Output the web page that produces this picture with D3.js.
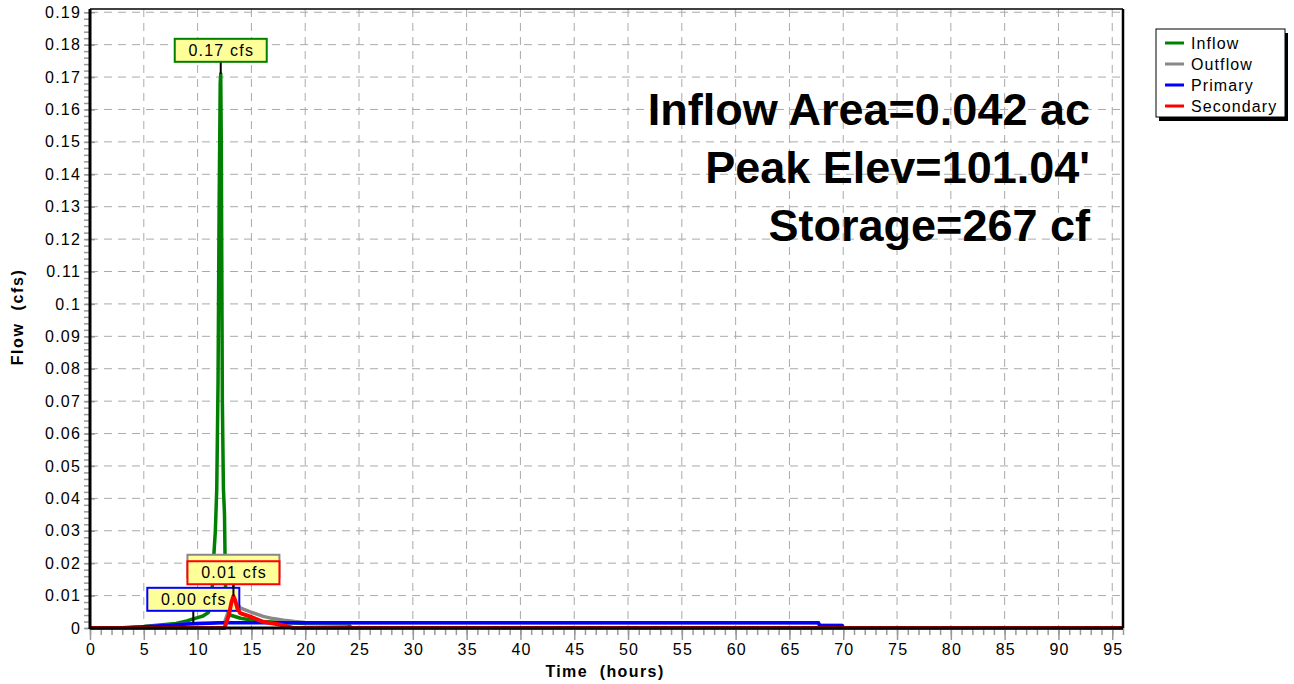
<!DOCTYPE html>
<html><head><meta charset="utf-8">
<script src="https://cdn.jsdelivr.net/npm/d3@7"></script>
<style>body{margin:0;background:#fff;}svg{display:block;font-family:"Liberation Sans",Arial,sans-serif;}</style>
</head><body><svg id="c" width="1294" height="684"></svg>
<script>
// ---- data (hours, cfs) ----
const inflowT = [0,2,3,4,5,6,7,8,8.5,9,9.5,10,10.5,11,11.2,11.35,11.5,11.65,11.78,11.9,12.0,12.1,12.15,12.2,12.3,12.4,12.5,12.55,12.6,12.7,13,14,15,16,18,20,24,24.3,96];
const inflowV = [0,0,0.0001,0.0003,0.0005,0.0008,0.0011,0.0014,0.0018,0.0022,0.0027,0.0032,0.0037,0.0048,0.007,0.012,0.022,0.03,0.043,0.076,0.13,0.168,0.171,0.15,0.07,0.043,0.035,0.022,0.012,0.006,0.004,0.003,0.0025,0.002,0.0017,0.0014,0.0012,0,0];
const outflowT = [0,3.5,5,7,9,10,11,12,12.5,12.9,13.15,13.33,13.5,13.7,13.95,14.9,16.1,17,18,19,20,21,67.7,67.8,69.9,70,96];
const outflowV = [0,0,0.0004,0.0008,0.0012,0.0014,0.0015,0.0016,0.0017,0.0056,0.0095,0.0112,0.0100,0.0077,0.0062,0.005,0.0036,0.0029,0.0024,0.002,0.0017,0.0016,0.0016,0.0008,0.0008,0,0];
const primaryT = [0,3.5,5,7,9,10,11,12,67.7,67.8,69.9,70,96];
const primaryV = [0,0,0.0004,0.0008,0.0012,0.0014,0.0015,0.0016,0.0016,0.0008,0.0008,0,0];
const secondaryT = [0,12.5,12.9,13.15,13.33,13.5,13.7,13.95,14.9,16.1,17.7,18.9,96];
const secondaryV = [0,0,0.004,0.008,0.0098,0.0085,0.006,0.0046,0.0035,0.0019,0.001,0,0];
const xTicks = d3.range(0,96,5);
const yTicks = d3.range(0,0.1901,0.01).map(v=>+v.toFixed(2));
const seriesNames = ["Inflow","Outflow","Primary","Secondary"];
const seriesColors = ["#008000","#888888","#0000ff","#ff0000"];
// peak labels, one per series (label text, labelled point)
const labelText = ["0.17 cfs","0.01 cfs","0.00 cfs","0.01 cfs"];
const labelT = [12.15,13.33,9.6,13.33];
const labelV = [0.171,0.0118,0.0016,0.0098];
const infoLines = ["Inflow Area=0.042 ac","Peak Elev=101.04'","Storage=267 cf"];

// ---- drawing ----
const svg = d3.select("#c");
const x = d3.scaleLinear().domain([0,96]).range([90,1123]);
const y = d3.scaleLinear().domain([0,0.191]).range([628,9]);
const L=90,R=1123,T=9,B=628;
const LS = "1.2px";

// grid
const g = svg.append("g");
g.selectAll(".gx").data(xTicks.filter(d=>d>0)).enter().append("line")
 .attr("x1",d=>x(d)).attr("x2",d=>x(d)).attr("y1",T).attr("y2",B)
 .attr("stroke","#aaa").attr("stroke-width",1).attr("stroke-dasharray","8,6");
g.selectAll(".gy").data(yTicks.filter(d=>d>0)).enter().append("line")
 .attr("y1",d=>y(d)).attr("y2",d=>y(d)).attr("x1",L).attr("x2",R)
 .attr("stroke","#aaa").attr("stroke-width",1).attr("stroke-dasharray","8,6");

// axes
const yAxis = d3.axisLeft(y).tickValues(yTicks).tickFormat(d=>d===0?"0":d3.format(".2~f")(d)).tickSize(10).tickPadding(3);
const ya = svg.append("g").attr("transform",`translate(${L+5},0)`).call(yAxis);
ya.select(".domain").remove();
ya.selectAll(".tick line").attr("stroke","#999").attr("stroke-width",1.5);
ya.selectAll(".tick text").attr("font-size",16).attr("fill","#000").attr("x",-14).style("letter-spacing",LS);
const yMinor = d3.axisLeft(y).tickValues(d3.range(0,0.191,0.002)).tickFormat("").tickSize(6);
const ym = svg.append("g").attr("transform",`translate(${L},0)`).call(yMinor);
ym.select(".domain").remove(); ym.selectAll("line").attr("stroke","#999").attr("stroke-width",1.5);

const xAxis = d3.axisBottom(x).tickValues(xTicks).tickSize(12).tickPadding(4);
const xa = svg.append("g").attr("transform",`translate(0,${B})`).call(xAxis);
xa.select(".domain").remove();
xa.selectAll(".tick line").attr("stroke","#999").attr("stroke-width",1.5);
xa.selectAll(".tick text").attr("font-size",16).attr("fill","#000").attr("dx","0.6px").style("letter-spacing",LS);
const xMinor = d3.axisBottom(x).tickValues(d3.range(0,97,1)).tickFormat("").tickSize(7);
const xm = svg.append("g").attr("transform",`translate(0,${B})`).call(xMinor);
xm.select(".domain").remove(); xm.selectAll("line").attr("stroke","#999").attr("stroke-width",1.5);

// series, each followed by its peak label
const line = d3.line().x(d=>x(d[0])).y(d=>y(d[1]));
const sets = [[inflowT,inflowV],[outflowT,outflowV],[primaryT,primaryV],[secondaryT,secondaryV]];
sets.forEach((s,i)=>{
  const pts = s[0].map((t,j)=>[t,s[1][j]]);
  svg.append("path").attr("d",line(pts)).attr("fill","none")
   .attr("stroke",seriesColors[i]).attr("stroke-width",i===3?4:3.5).attr("stroke-linejoin","round");
  const px=x(labelT[i]), py=y(labelV[i]);
  const w=92,h=23, bottom=py-12;
  svg.append("line").attr("x1",px).attr("x2",px).attr("y1",bottom).attr("y2",py).attr("stroke","#000").attr("stroke-width",2);
  svg.append("rect").attr("x",px-w/2).attr("y",bottom-h).attr("width",w).attr("height",h)
   .attr("fill","#ffff99").attr("stroke",seriesColors[i]).attr("stroke-width",2);
  if(i!==1) svg.append("text").attr("x",px+0.6).attr("y",bottom-6).attr("text-anchor","middle")
   .attr("font-size",16).attr("fill","#000").style("letter-spacing",LS).text(labelText[i]);
});

// frame
svg.append("line").attr("x1",L).attr("x2",L).attr("y1",T).attr("y2",B+1).attr("stroke","#000").attr("stroke-width",3);
svg.append("line").attr("x1",L).attr("x2",R).attr("y1",B).attr("y2",B).attr("stroke","#000").attr("stroke-width",3);
svg.append("line").attr("x1",L).attr("x2",R).attr("y1",T).attr("y2",T).attr("stroke","#000").attr("stroke-width",1.5);
svg.append("line").attr("x1",R).attr("x2",R).attr("y1",T).attr("y2",B).attr("stroke","#000").attr("stroke-width",2.5);

// info text
infoLines.forEach((t,i)=>{
  svg.append("text").attr("x",1090).attr("y",125+i*58).attr("text-anchor","end")
   .attr("font-size",45).attr("font-weight","bold").attr("fill","#000").text(t);
});

// axis titles
svg.append("text").attr("x",605).attr("y",677).attr("text-anchor","middle").attr("font-size",16).attr("font-weight","bold").style("letter-spacing","1.4px").style("white-space","pre").text("Time  (hours)");
svg.append("text").attr("transform","translate(23,317) rotate(-90)").attr("text-anchor","middle").attr("font-size",16).attr("font-weight","bold").style("letter-spacing","1.6px").style("white-space","pre").text("Flow  (cfs)");

// legend
const lg = svg.append("g");
lg.append("rect").attr("x",1159).attr("y",33).attr("width",129).attr("height",88).attr("fill","#000");
lg.append("rect").attr("x",1156).attr("y",29).attr("width",129).attr("height",88).attr("fill","#fff").attr("stroke","#000").attr("stroke-width",1);
seriesNames.forEach((n,i)=>{
  const yy=43+i*21;
  lg.append("line").attr("x1",1165).attr("x2",1184).attr("y1",yy).attr("y2",yy).attr("stroke",seriesColors[i]).attr("stroke-width",3);
  lg.append("text").attr("x",1191).attr("y",yy+6).attr("font-size",16).style("letter-spacing","1.1px").text(n);
});
</script></body></html>
